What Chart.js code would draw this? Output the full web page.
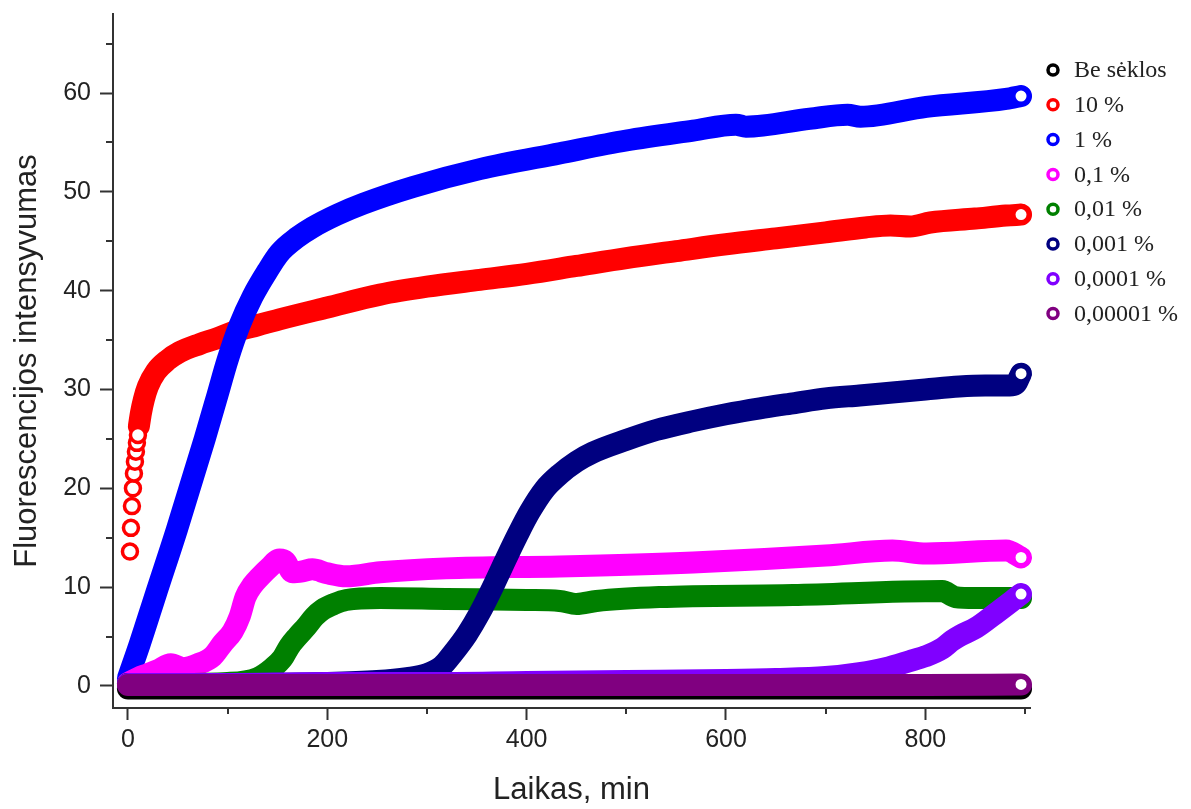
<!DOCTYPE html>
<html>
<head>
<meta charset="utf-8">
<script src="https://cdn.jsdelivr.net/npm/chart.js@4"></script>
<style>
  html, body { margin: 0; padding: 0; background: #fff; }
  #wrap { width: 1191px; height: 809px; position: relative; }
</style>
</head>
<body>
<div id="wrap"><canvas id="fluoChart"></canvas></div>
<script>
// --- values (time in min, intensity) ---
const xTicks = [0, 200, 400, 600, 800];
const yTicks = [0, 10, 20, 30, 40, 50, 60];
const xMinor = [100, 300, 500, 700, 900];
const yMinor = [5, 15, 25, 35, 45, 55, 65];

const labels = ['Be sėklos', '10 %', '1 %', '0,1 %', '0,01 %', '0,001 %', '0,0001 %', '0,00001 %'];
const colors = ['#000000', '#ff0000', '#0000ff', '#ff00ff', '#008000', '#000080', '#8000ff', '#800080'];

const tBlank = [0, 100, 200, 300, 400, 500, 600, 700, 800, 896];
const vBlank = [-0.25, -0.25, -0.25, -0.25, -0.25, -0.25, -0.25, -0.25, -0.25, -0.25];

// first sparse points of 10 %
const t10start = [2, 3, 4, 5, 6, 7, 8, 9, 10];
const v10start = [13.6, 16.0, 18.2, 20.0, 21.5, 22.7, 23.7, 24.6, 25.4];
const t10 = [11, 13, 16, 20, 28, 40, 52, 72, 90, 105, 130, 152, 200, 253, 300, 353, 400, 450, 500, 550, 600, 650, 700, 740, 765, 785, 805, 850, 881, 896];
const v10 = [26.3, 27.6, 29.0, 30.3, 31.8, 33.0, 33.8, 34.6, 35.2, 35.8, 36.5, 37.1, 38.3, 39.6, 40.4, 41.1, 41.7, 42.5, 43.3, 44.0, 44.7, 45.3, 45.9, 46.4, 46.6, 46.5, 46.9, 47.3, 47.6, 47.7];

const t1 = [0, 12, 28, 49, 77, 90, 100, 112, 125, 140, 152, 170, 185, 210, 236, 286, 353, 433, 500, 567, 610, 620, 684, 722, 735, 801, 881, 896];
const v1 = [0.8, 4.3, 9.3, 15.8, 25.0, 29.5, 33.0, 36.5, 39.4, 42.0, 43.8, 45.4, 46.4, 47.7, 48.8, 50.5, 52.3, 53.9, 55.2, 56.2, 56.8, 56.6, 57.4, 57.8, 57.6, 58.6, 59.4, 59.7];

const t01 = [0, 10, 20, 30, 43, 55, 70, 85, 95, 105, 112, 118, 125, 132, 142, 152, 158, 165, 175, 185, 200, 219, 253, 319, 433, 567, 700, 767, 801, 881, 896];
const v01 = [0.3, 0.8, 1.2, 1.6, 2.2, 1.8, 2.2, 3.0, 4.3, 5.5, 7.0, 9.0, 10.2, 11.0, 12.0, 12.8, 12.6, 11.5, 11.6, 11.8, 11.4, 11.1, 11.5, 11.9, 12.1, 12.5, 13.2, 13.7, 13.4, 13.7, 13.0];

const t001 = [0, 50, 100, 130, 145, 155, 162, 170, 179, 187, 195, 207, 219, 253, 319, 400, 433, 450, 470, 533, 667, 817, 830, 850, 896];
const v001 = [0.2, 0.2, 0.3, 0.8, 1.8, 2.8, 4.0, 5.0, 6.0, 7.0, 7.7, 8.3, 8.7, 8.9, 8.8, 8.7, 8.6, 8.3, 8.6, 9.0, 9.2, 9.6, 9.0, 8.9, 8.9];

const t0001 = [0, 100, 200, 250, 280, 300, 315, 326, 340, 353, 366, 379, 391, 403, 418, 433, 450, 466, 500, 530, 567, 600, 634, 667, 700, 734, 767, 800, 834, 860, 881, 890, 896];
const v0001 = [0.2, 0.2, 0.3, 0.5, 0.8, 1.2, 2.0, 3.3, 5.2, 7.4, 10.0, 12.8, 15.3, 17.6, 19.9, 21.4, 22.7, 23.6, 24.9, 25.9, 26.8, 27.5, 28.1, 28.6, 29.1, 29.4, 29.7, 30.0, 30.3, 30.4, 30.4, 30.5, 31.6];

const t00001 = [0, 100, 200, 300, 400, 500, 600, 650, 700, 734, 760, 784, 800, 817, 827, 835, 851, 870, 896];
const v00001 = [0.2, 0.2, 0.3, 0.3, 0.4, 0.5, 0.6, 0.7, 0.9, 1.3, 1.8, 2.5, 3.0, 3.8, 4.6, 5.1, 5.9, 7.3, 9.3];

const t000001 = [0, 100, 200, 300, 400, 500, 600, 700, 800, 896];
const v000001 = [0.1, 0.1, 0.1, 0.1, 0.1, 0.1, 0.1, 0.1, 0.1, 0.15];

const seriesT = [tBlank, t10, t1, t01, t001, t0001, t00001, t000001];
const seriesV = [vBlank, v10, v1, v01, v001, v0001, v00001, v000001];

function toPoints(ts, vs) {
    return ts.map((t, i) => ({ x: t, y: vs[i] }));
}

const datasets = seriesT.map((ts, i) => {
    const n = ts.length;
    return {
        label: labels[i],
        data: toPoints(ts, seriesV[i]),
        borderColor: colors[i],
        borderWidth: 22,
        borderCapStyle: 'round',
        borderJoinStyle: 'round',
        cubicInterpolationMode: 'monotone',
        pointRadius: ctx => (ctx.dataIndex === n - 1 && i > 0 ? 8 : 0),
        pointBorderWidth: 5,
        pointBorderColor: colors[i],
        pointBackgroundColor: '#ffffff',
        fill: false,
        clip: false,
        order: labels.length - i + 1 // later series drawn on top
    };
});

// early sparse circles of the 10 % series
datasets.push({
    label: '10 % start',
    data: toPoints(t10start, v10start),
    showLine: false,
    pointRadius: 7.5,
    pointBorderWidth: 3.5,
    pointBorderColor: colors[1],
    pointBackgroundColor: '#ffffff',
    clip: false,
    order: labels.length - 1 + 0.5
});

const axisColor = '#333333';
const textColor = '#222222';

// minor ticks + legend
const extrasPlugin = {
    id: 'extras',
    afterDraw(chart) {
        const ctx = chart.ctx;
        const xs = chart.scales.x, ys = chart.scales.y;
        ctx.save();
        ctx.strokeStyle = axisColor;
        ctx.lineWidth = 2;
        xMinor.forEach(v => {
            const px = Math.round(xs.getPixelForValue(v));
            ctx.beginPath();
            ctx.moveTo(px, xs.top);
            ctx.lineTo(px, xs.top + 6);
            ctx.stroke();
        });
        yMinor.forEach(v => {
            const py = Math.round(ys.getPixelForValue(v));
            ctx.beginPath();
            ctx.moveTo(ys.right, py);
            ctx.lineTo(ys.right - 7, py);
            ctx.stroke();
        });

        // legend
        ctx.font = '24px "Liberation Serif", "Times New Roman", serif';
        ctx.textBaseline = 'middle';
        ctx.textAlign = 'left';
        labels.forEach((lab, i) => {
            const y = 70 + i * 34.8;
            ctx.beginPath();
            ctx.arc(1053, y, 5, 0, Math.PI * 2);
            ctx.fillStyle = '#ffffff';
            ctx.fill();
            ctx.lineWidth = 3.5;
            ctx.strokeStyle = colors[i];
            ctx.stroke();
            ctx.fillStyle = textColor;
            ctx.fillText(lab, 1074, y + 1);
        });
        ctx.restore();
    }
};

const tickFont = { family: '"Liberation Sans", Arial, sans-serif', size: 25 };
const titleFont = { family: '"Liberation Sans", Arial, sans-serif', size: 31 };

new Chart(document.getElementById('fluoChart').getContext('2d'), {
    type: 'line',
    data: { datasets: datasets },
    options: {
        responsive: true,
        maintainAspectRatio: false,
        animation: false,
        layout: { padding: { top: 14, right: 161, bottom: 0, left: 0 } },
        plugins: {
            legend: { display: false },
            tooltip: { enabled: false }
        },
        scales: {
            x: {
                type: 'linear',
                min: -15,
                max: 905,
                afterFit: scale => { scale.height = 101; scale.paddingLeft = 0; scale.paddingRight = 0; },
                afterBuildTicks: scale => { scale.ticks = xTicks.map(v => ({ value: v })); },
                border: { display: true, color: axisColor, width: 2 },
                grid: { drawOnChartArea: false, drawTicks: true, tickLength: 12, tickColor: axisColor, tickWidth: 2 },
                ticks: { font: tickFont, color: textColor, padding: 5, maxRotation: 0 },
                title: { display: true, text: 'Laikas, min', font: titleFont, color: textColor, padding: { top: 0, bottom: 0 } }
            },
            y: {
                type: 'linear',
                min: -2.23,
                max: 68,
                afterFit: scale => { scale.width = 113; scale.paddingTop = 0; scale.paddingBottom = 0; },
                afterBuildTicks: scale => { scale.ticks = yTicks.map(v => ({ value: v })); },
                border: { display: true, color: axisColor, width: 2 },
                grid: { drawOnChartArea: false, drawTicks: true, tickLength: 13, tickColor: axisColor, tickWidth: 2 },
                ticks: { font: tickFont, color: textColor, padding: 9 },
                title: { display: true, text: 'Fluorescencijos intensyvumas', font: titleFont, color: textColor, padding: { top: 9, bottom: 0 } }
            }
        }
    },
    plugins: [extrasPlugin]
});
</script>
</body>
</html>
